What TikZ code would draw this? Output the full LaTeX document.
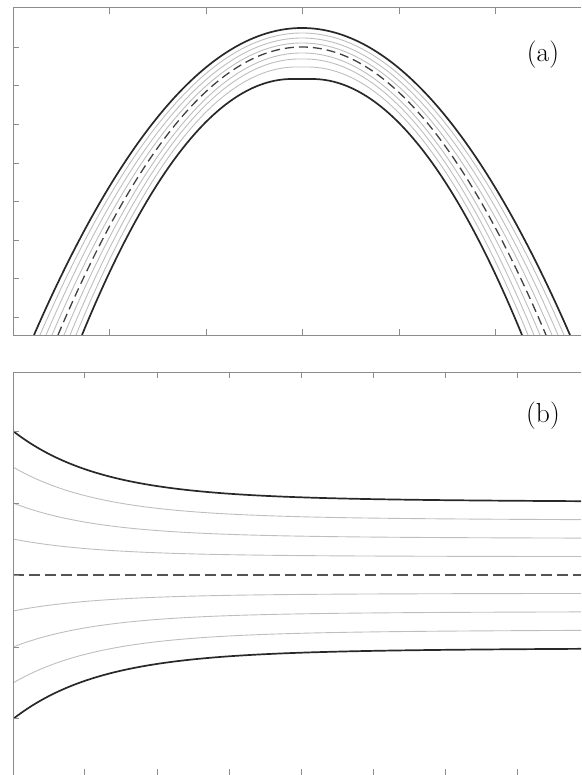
\documentclass[tikz,border=0pt]{standalone}
\usepackage{tikz}
\definecolor{framecol}{RGB}{140,140,140}
\definecolor{boldcol}{RGB}{40,40,40}
\definecolor{faintcol}{RGB}{190,190,190}
\definecolor{dashcol}{RGB}{65,65,65}
\tikzset{
  framestyle/.style={draw=framecol,line width=1pt},
  tickstyle/.style={draw=framecol,line width=0.9pt},
  boldcurve/.style={draw=boldcol,line width=1.7pt},
  faintcurve/.style={draw=faintcol,line width=0.9pt},
  dashcurve/.style={draw=dashcol,line width=1.3pt,dash pattern=on 9pt off 5pt},
  dashcurveb/.style={draw=dashcol!90,line width=1.6pt,dash pattern=on 11pt off 5pt},
  panellabel/.style={inner sep=0pt,font=\fontsize{27.5}{32}\selectfont}
}
\begin{document}
\begin{tikzpicture}[x=1pt,y=-1pt]
\useasboundingbox (0,0) rectangle (581,775);
% ---------- panel (a) ----------
\begin{scope}
\clip (13,8) rectangle (581,335);
\foreach \p/\w/\c/\sty in {33/262/0/faintcurve,38/256/0/faintcurve,43/250/0/faintcurve,
    53/238/0.6/faintcurve,59/232/2.5/faintcurve,67/226/5.6/faintcurve,
    28/268/0/boldcurve,79/220/10/boldcurve,47/244/0/dashcurve}{
  \draw[\sty] plot[domain={302-\w}:{302+\w},samples=240,smooth]
    (\x,{\p+(335-\p)*(max(abs(\x-302)-\c,0)/(\w-\c))^2});
}
\end{scope}
\draw[framestyle] (581,8) -- (13,8) -- (13,335) -- (581,335);
\foreach \tx in {109,206,302,399,495}{
  \draw[tickstyle] (\tx,8) -- (\tx,14);
  \draw[tickstyle] (\tx,335) -- (\tx,329);
}
\foreach \ty in {47,85,124,163,201,240,278,317}{
  \draw[tickstyle] (13,\ty) -- (19,\ty);
}
\node[panellabel] (laba) at (543,55) {(a)};
% ---------- panel (b) ----------
\begin{scope}
\clip (13,372) rectangle (581,775);
\foreach \i/\sty in {1/faintcurve,2/faintcurve,3/faintcurve,0/boldcurve}{
  \pgfmathsetmacro{\s}{431+36*\i}
  \pgfmathsetmacro{\e}{503+18*\i}
  \draw[\sty] plot[domain=13:581,samples=160,smooth]
    (\x,{\e-(\e-\s)*(0.9*exp(-(\x-13)/85)+0.1*exp(-(\x-13)/400))});
  \draw[\sty] plot[domain=13:581,samples=160,smooth]
    (\x,{1150-(\e-(\e-\s)*(0.9*exp(-(\x-13)/85)+0.1*exp(-(\x-13)/400)))});
}
\draw[dashcurveb] (13,575) -- (581,575);
\end{scope}
\draw[framestyle] (581,372) -- (13,372) -- (13,775);
\foreach \tx in {84,157,229,301,373,445,517}{
  \draw[tickstyle] (\tx,372) -- (\tx,378);
  \draw[tickstyle] (\tx,775) -- (\tx,769);
}
\foreach \ty in {431,503,575,647,718}{
  \draw[tickstyle] (13,\ty) -- (19,\ty);
}
\node[panellabel] (labb) at (543,416) {(b)};
\end{tikzpicture}
\end{document}
